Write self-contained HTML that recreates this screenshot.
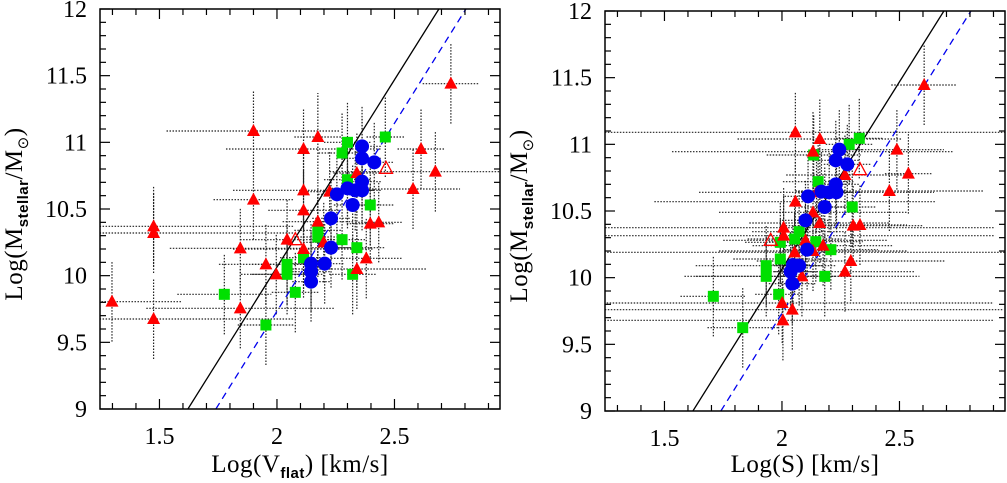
<!DOCTYPE html>
<html><head><meta charset="utf-8">
<style>
html,body{margin:0;padding:0;background:#fff;}
svg text{font-family:"Liberation Serif",serif;fill:#000;}
</style></head>
<body>
<svg id="chart" width="1007" height="478" viewBox="0 0 1007 478" xmlns="http://www.w3.org/2000/svg"></svg>
<script>
// ---------- data: left panel (x = Log Vflat) ----------
const L_redX  = [1.298,1.475,1.475,1.475,1.90,1.90,1.844,1.844,1.953,1.997,2.043,2.113,2.113,2.113,2.113,2.174,2.174,2.199,2.224,2.34,2.34,2.38,2.397,2.433,2.579,2.613,2.674,2.74];
const L_redY  = [9.805,10.37,10.32,9.675,11.085,10.57,10.205,9.755,10.085,10.01,10.27,10.95,10.64,10.49,10.2,11.04,10.405,10.25,10.63,10.77,10.05,10.13,10.39,10.4,10.65,10.95,10.78,11.44];
const L_redXe = [0.3,0.6,0.6,0.6,0.37,0.17,0.3,0.4,0.2,0.15,0.2,0.33,0.3,0.15,0.3,0.1,0.15,0.1,0.12,0.1,0.3,0.15,0.1,0.1,0.2,0.1,0.45,0.12];
const L_redYe = [0.3,0.3,0.3,0.3,0.3,0.3,0.3,0.3,0.3,0.3,0.3,0.3,0.3,0.3,0.3,0.33,0.3,0.3,0.3,0.3,0.3,0.3,0.3,0.3,0.3,0.3,0.3,0.3];
const L_openX = [2.464,2.078];
const L_openY = [10.805,10.27];
const L_grnX  = [1.776,1.953,2.043,2.043,2.078,2.113,2.174,2.174,2.277,2.277,2.30,2.30,2.34,2.397,2.461,2.322];
const L_grnY  = [9.86,9.63,10.085,10.01,9.875,10.135,10.34,10.29,10.27,10.92,11.0,10.72,10.21,10.53,11.04,10.01];
const L_grnXe = [0.2,0.12,0.15,0.15,0.1,0.1,0.1,0.1,0.1,0.1,0.1,0.1,0.12,0.1,0.08,0.1];
const L_grnYe = [0.3,0.3,0.3,0.3,0.3,0.3,0.3,0.3,0.3,0.3,0.3,0.3,0.3,0.3,0.3,0.3];
const L_bluX  = [2.362,2.362,2.414,2.362,2.362,2.255,2.30,2.333,2.322,2.23,2.23,2.203,2.145,2.145,2.145];
const L_bluY  = [10.97,10.88,10.85,10.705,10.64,10.61,10.655,10.64,10.53,10.43,10.21,10.09,10.09,10.03,9.955];
const L_bluXe = [0.08,0.08,0.08,0.08,0.08,0.08,0.08,0.08,0.08,0.08,0.08,0.08,0.08,0.08,0.08];
const L_bluYe = [0.3,0.3,0.3,0.3,0.3,0.3,0.3,0.3,0.3,0.3,0.3,0.3,0.3,0.3,0.3];
// ---------- data: right panel (x = Log S) ----------
const R_redX  = [2.057,2.161,2.132,2.268,2.489,2.538,2.457,2.605,2.057,2.132,2.161,2.007,2.007,2.10,2.175,2.054,2.132,2.303,2.332,2.293,2.268,2.085,2.001,2.044,2.004,2.147];
const R_redY  = [11.09,11.04,10.945,10.77,10.96,10.78,10.65,11.445,10.57,10.49,10.41,10.375,10.315,10.28,10.24,10.19,10.2,10.39,10.395,10.125,10.045,10.01,9.81,9.76,9.68,10.64];
const R_redXe = [0.9,0.35,0.6,0.25,0.2,0.1,0.4,0.14,0.6,0.4,0.3,0.9,0.9,0.35,0.3,0.9,0.4,0.3,0.2,0.4,0.3,0.5,0.9,0.9,0.9,0.5];
const R_redYe = [0.3,0.3,0.3,0.3,0.3,0.3,0.3,0.3,0.3,0.3,0.3,0.3,0.3,0.3,0.3,0.3,0.3,0.3,0.3,0.3,0.3,0.3,0.3,0.3,0.3,0.3];
const R_openX = [2.332,1.952];
const R_openY = [10.81,10.28];
const R_grnX  = [2.329,2.286,2.135,2.154,2.299,2.073,2.054,1.993,2.144,2.208,1.993,1.933,1.933,2.182,1.986,1.708,1.833];
const R_grnY  = [11.045,11.0,10.92,10.72,10.53,10.345,10.29,10.265,10.27,10.21,10.14,10.09,10.01,10.01,9.875,9.86,9.625];
const R_grnXe = [0.1,0.1,0.2,0.15,0.1,0.2,0.2,0.15,0.2,0.2,0.2,0.3,0.3,0.2,0.1,0.14,0.15];
const R_grnYe = [0.3,0.3,0.3,0.3,0.3,0.3,0.3,0.3,0.3,0.3,0.3,0.3,0.3,0.3,0.3,0.3,0.3];
const R_bluX  = [2.244,2.229,2.278,2.229,2.232,2.168,2.201,2.111,2.182,2.10,2.107,2.047,2.073,2.037,2.044];
const R_bluY  = [10.96,10.88,10.85,10.7,10.64,10.645,10.64,10.61,10.53,10.43,10.21,10.095,10.09,10.045,9.955];
const R_bluXe = [0.1,0.1,0.1,0.1,0.1,0.1,0.1,0.1,0.1,0.1,0.1,0.1,0.1,0.1,0.1];
const R_bluYe = [0.3,0.3,0.3,0.3,0.3,0.3,0.3,0.3,0.3,0.3,0.3,0.3,0.3,0.3,0.3];
// fit lines: [x at y=9, x at y=12]
const solidLine  = [1.621, 2.689];
const dashedLine = [1.74, 2.804];
const xTicks = [1.5, 2, 2.5];
const yTicks = [9, 9.5, 10, 10.5, 11, 11.5, 12];
const xMin = 1.247, xMax = 2.949, yMin = 9, yMax = 12;

const NS = "http://www.w3.org/2000/svg";
const svg = document.getElementById('chart');
function mk(tag, attrs, parent){
  const e = document.createElementNS(NS, tag);
  for (const k in attrs) e.setAttribute(k, attrs[k]);
  (parent||svg).appendChild(e);
  return e;
}

function panel(name, px0, py0, px1, py1, xlabelMain, xlabelSub, D){
  const g = mk('g', {});
  
  
  const sx = v => px0 + (v - xMin) / (xMax - xMin) * (px1 - px0);
  const sy = v => py1 - (v - yMin) / (yMax - yMin) * (py1 - py0);
  const clip = mk('clipPath', {id: name + '-clip'}, g);
  mk('rect', {x: px0, y: py0, width: px1 - px0, height: py1 - py0}, clip);
  const plot = mk('g', {'clip-path': 'url(#' + name + '-clip)'}, g);

  const eb = mk('g', {}, plot);
  
  
  function errs(X, Y, XE, YE){
    for (let i = 0; i < X.length; i++){
      const l = mk('line', {x1: sx(X[i] - XE[i]), x2: sx(X[i] + XE[i]), y1: sy(Y[i]), y2: sy(Y[i]), stroke: '#222', 'stroke-width': 1.2, 'stroke-dasharray': '1.5,1.5'}, eb);
      
      
      const m = mk('line', {x1: sx(X[i]), x2: sx(X[i]), y1: sy(Y[i] - YE[i]), y2: sy(Y[i] + YE[i]), stroke: '#222', 'stroke-width': 1.2, 'stroke-dasharray': '1.5,1.5'}, eb);
      
      
    }
  }
  errs(D.rX, D.rY, D.rXe, D.rYe);
  errs(D.gX, D.gY, D.gXe, D.gYe);
  errs(D.bX, D.bY, D.bXe, D.bYe);

  const s = mk('line', {x1: sx(solidLine[0]), y1: sy(9), x2: sx(solidLine[1]), y2: sy(12), stroke: '#000', 'stroke-width': 1.3}, plot);
  
  
  const d = mk('line', {x1: sx(dashedLine[0]), y1: sy(9), x2: sx(dashedLine[1]), y2: sy(12), stroke: '#0000ee', 'stroke-width': 1.3, 'stroke-dasharray': '7,5'}, plot);
  
  

  for (let i = 0; i < D.gX.length; i++){
    const r = mk('rect', {x: sx(D.gX[i]) - 5.5, y: sy(D.gY[i]) - 5.5, width: 11, height: 11, fill: '#00e000'}, plot);
    
    
  }
  function tri(x, y, filled){
    return mk('polygon', {points: `${x},${y-7} ${x-6.5},${y+5} ${x+6.5},${y+5}`, fill: filled ? '#ff0000' : 'none', stroke: '#ff0000', 'stroke-width': filled ? 0 : 1.3}, plot);
  }
  for (let i = 0; i < D.rX.length; i++){
    const t = tri(sx(D.rX[i]), sy(D.rY[i]), true);
    
    
  }
  for (let i = 0; i < D.oX.length; i++){
    const t = tri(sx(D.oX[i]), sy(D.oY[i]), false);
    
    
  }
  for (let i = 0; i < D.bX.length; i++){
    const c = mk('circle', {cx: sx(D.bX[i]), cy: sy(D.bY[i]), r: 7, fill: '#0000ee'}, plot);
    
    
  }

  const f = mk('rect', {x: px0, y: py0, width: px1 - px0, height: py1 - py0, fill: 'none', stroke: '#000', 'stroke-width': 1.5}, g);
  
  

  const tg = mk('g', {stroke: '#000', 'stroke-width': 1.2}, g);
  
  
  for (let k = 13; k <= 29; k++){
    const X = sx(k / 10);
    const len = (k % 5 === 0) ? 10 : 6;
    mk('line', {x1: X, x2: X, y1: py1, y2: py1 - len}, tg);
    mk('line', {x1: X, x2: X, y1: py0, y2: py0 + len}, tg);
  }
  for (let k = 90; k <= 120; k++){
    const Y = sy(k / 10);
    const len = (k % 5 === 0) ? 10 : 6;
    mk('line', {x1: px0, x2: px0 + len, y1: Y, y2: Y}, tg);
    mk('line', {x1: px1, x2: px1 - len, y1: Y, y2: Y}, tg);
  }
  xTicks.forEach(v => {
    const t = mk('text', {x: sx(v), y: py1 + 35, 'font-size': 24, 'text-anchor': 'middle'}, g);
    t.textContent = String(v);
    
    
  });
  yTicks.forEach(v => {
    const t = mk('text', {x: px0 - 13, y: sy(v) + 8, 'font-size': 24, 'text-anchor': 'end'}, g);
    t.textContent = String(v);
    
    
  });
  const xl = mk('text', {x: (px0 + px1) / 2, y: 472, 'font-size': 25, 'text-anchor': 'middle', 'letter-spacing': '0.5'}, g);
  
  
  const a = mk('tspan', {}, xl); a.textContent = xlabelMain;
  if (xlabelSub){
    const b = mk('tspan', {'font-size': 15, dy: 6, 'font-family': 'Liberation Sans, sans-serif', 'font-weight': 'bold'}, xl); b.textContent = xlabelSub;
    const c = mk('tspan', {dy: -6}, xl); c.textContent = ')  [km/s]';
  }
  const yl = mk('text', {x: 0, y: 0, 'font-size': 25, 'text-anchor': 'middle', 'letter-spacing': '0.5', transform: `translate(${px0 - 78},${(py0 + py1) / 2 + 5}) rotate(-90)`}, g);
  
  
  const y1 = mk('tspan', {}, yl); y1.textContent = 'Log(M';
  const y2 = mk('tspan', {'font-size': 15, dy: 6, 'font-family': 'Liberation Sans, sans-serif', 'font-weight': 'bold'}, yl); y2.textContent = 'stellar';
  const y3 = mk('tspan', {dy: -6}, yl); y3.textContent = '/M';
  const y4 = mk('tspan', {'font-size': 15, dy: 6}, yl); y4.textContent = '⊙';
  const y5 = mk('tspan', {dy: -6}, yl); y5.textContent = ')';
}

panel('left-panel', 100, 9, 500, 409, 'Log(V', 'flat', {
  rX: L_redX, rY: L_redY, rXe: L_redXe, rYe: L_redYe, oX: L_openX, oY: L_openY,
  gX: L_grnX, gY: L_grnY, gXe: L_grnXe, gYe: L_grnYe, bX: L_bluX, bY: L_bluY, bXe: L_bluXe, bYe: L_bluYe});
panel('right-panel', 605, 11, 1005, 411, 'Log(S)  [km/s]', null, {
  rX: R_redX, rY: R_redY, rXe: R_redXe, rYe: R_redYe, oX: R_openX, oY: R_openY,
  gX: R_grnX, gY: R_grnY, gXe: R_grnXe, gYe: R_grnYe, bX: R_bluX, bY: R_bluY, bXe: R_bluXe, bYe: R_bluYe});
</script>
</body></html>
